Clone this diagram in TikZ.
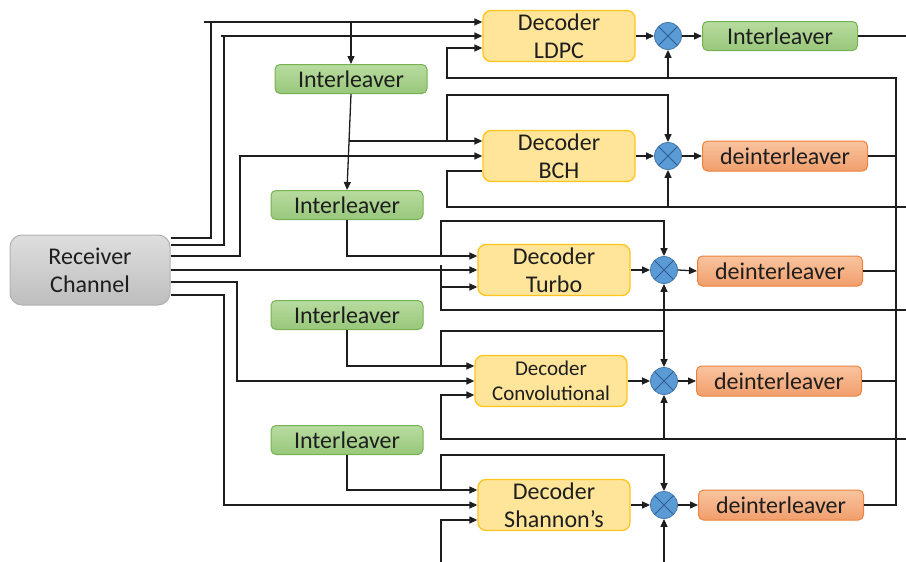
\documentclass[tikz,border=0pt]{standalone}
\usepackage{fontspec}
\setmainfont{Carlito}
\usetikzlibrary{arrows.meta}

\definecolor{linecol}{RGB}{30,30,30}
\definecolor{txt}{RGB}{30,30,30}
\definecolor{decfill}{RGB}{255,229,153}
\definecolor{decdraw}{RGB}{255,196,30}
\definecolor{grntop}{RGB}{184,220,160}
\definecolor{grnbot}{RGB}{152,199,122}
\definecolor{grndraw}{RGB}{120,178,80}
\definecolor{orgtop}{RGB}{249,196,160}
\definecolor{orgbot}{RGB}{241,158,108}
\definecolor{orgdraw}{RGB}{236,130,60}
\definecolor{recvtop}{RGB}{222,222,222}
\definecolor{recvbot}{RGB}{190,190,190}
\definecolor{recvdraw}{RGB}{178,178,178}
\definecolor{multfill}{RGB}{91,155,213}
\definecolor{multdraw}{RGB}{70,120,170}
\definecolor{multx}{RGB}{45,95,150}

\tikzset{
  wire/.style={draw=linecol, line width=1.3pt},
  arr/.style={wire, -{Triangle[length=8pt,width=7pt]}},
  box/.style={rectangle, inner sep=0pt, align=center, text=txt,
    font=\fontsize{24}{28}\selectfont},
  decoder/.style={box, rounded corners=8pt, fill=decfill, draw=decdraw,
    line width=1.3pt, minimum width=152pt, minimum height=51pt},
  grnbox/.style={box, rounded corners=5pt, top color=grntop, bottom color=grnbot,
    draw=grndraw, line width=1pt, minimum width=152pt, minimum height=29pt},
  orgbox/.style={box, rounded corners=5pt, top color=orgtop, bottom color=orgbot,
    draw=orgdraw, line width=1pt, minimum width=165pt, minimum height=30pt},
  recvbox/.style={box, rounded corners=12pt, top color=recvtop, bottom color=recvbot,
    draw=recvdraw, line width=1pt, minimum width=160pt, minimum height=70pt},
  mult/.style={circle, inner sep=0pt, minimum size=27pt, fill=multfill,
    draw=multdraw, line width=0.8pt,
    path picture={\draw[multx, line width=0.9pt]
      (path picture bounding box.north west) -- (path picture bounding box.south east)
      (path picture bounding box.north east) -- (path picture bounding box.south west);}}
}

\begin{document}
\begin{tikzpicture}[x=1pt,y=-1pt]
\useasboundingbox (0,0) rectangle (906,562);

% blocks
\node[recvbox] (rc) at (90,270) {Receiver\\Channel};

\node[decoder] (d1) at (559,36) {Decoder\\LDPC};
\node[decoder] (d2) at (559,156) {Decoder\\BCH};
\node[decoder] (d3) at (554,270) {Decoder\\Turbo};
\node[decoder, font=\fontsize{21}{25}\selectfont] (d4) at (551,381) {Decoder\\Convolutional};
\node[decoder] (d5) at (554,505) {Decoder\\Shannon’s};

\node[mult] (m1) at (668,36) {};
\node[mult] (m2) at (668,156) {};
\node[mult] (m3) at (664,270) {};
\node[mult] (m4) at (664,381) {};
\node[mult] (m5) at (664,505) {};

\node[grnbox, minimum width=155pt] (o1) at (780,36) {Interleaver};
\node[orgbox] (o2) at (785,156) {deinterleaver};
\node[orgbox] (o3) at (780,271) {deinterleaver};
\node[orgbox] (o4) at (779,381) {deinterleaver};
\node[orgbox] (o5) at (781,505) {deinterleaver};

\node[grnbox] (i1) at (351,79) {Interleaver};
\node[grnbox] (i2) at (347,205) {Interleaver};
\node[grnbox] (i3) at (347,315) {Interleaver};
\node[grnbox] (i4) at (347,440) {Interleaver};

% receiver feeds into the decoders
\draw[arr] ([yshift=32pt]rc.east) -| (211,22) -- ([yshift=14pt]d1.west);
\draw[wire] (204,22) -- (211,22);
\draw[arr] ([yshift=25pt]rc.east) -| (224,36) -- (d1.west);
\draw[wire] (221,36) -- (224,36);
\draw[arr] ([yshift=14pt]rc.east) -| (240,156) -- (d2.west);
\draw[arr] (rc.east) -- (d3.west);
\draw[arr] ([yshift=-12pt]rc.east) -| (237,381) -- (d4.west);
\draw[arr] ([yshift=-25pt]rc.east) -| (224,505) -- (d5.west);

% interleaver chain
\coordinate (t1) at (351,22);
\draw[arr] (t1) -- (i1.north);
\draw[arr] (i1.south) -- (i2.north);
\coordinate (t2) at (349,141);
\draw[arr] (t2) -- ([yshift=15pt]d2.west);
\draw[arr] (i2.south) |- ([yshift=14pt]d3.west);
\draw[arr] (i3.south) |- ([yshift=15pt]d4.west);
\draw[arr] (i4.south) |- ([yshift=15pt]d5.west);

% LDPC stage
\draw[arr] (d1.east) -- (m1.west);
\draw[arr] (m1.east) -- (o1.west);
\draw[wire] (o1.east) -- (906,36);
\draw[arr] (668,78) -- (m1.south);

% BCH stage
\draw[arr] (447,141) |- (668,95) -- (m2.north);
\draw[wire] (906,207) -- (447,207) |- ([yshift=-15pt]d2.west);
\draw[arr] (668,207) -- (m2.south);
\draw[arr] (d2.east) -- (m2.west);
\draw[arr] (m2.east) -- (o2.west);

% Turbo stage
\draw[arr] (441,256) |- (664,221) -- (m3.north);
\draw[wire] (906,310) -- (441,310) -- (441,265);
\draw[arr] (441,287) -- ([yshift=-17pt]d3.west);
\draw[arr] (664,331) -- (m3.south);
\draw[arr] (d3.east) -- (m3.west);
\draw[arr] (m3.east) -- (o3.west);

% Convolutional stage
\draw[arr] (441,366) |- (664,331) -- (m4.north);
\draw[arr] (906,439) -- (441,439) |- ([yshift=-14pt]d4.west);
\draw[arr] (664,439) -- (m4.south);
\draw[arr] (d4.east) -- (m4.west);
\draw[arr] (m4.east) -- (o4.west);

% Shannon stage
\draw[arr] (441,490) |- (664,455) -- (m5.north);
\draw[arr] (441,562) |- ([yshift=-15pt]d5.west);
\draw[arr] (664,562) -- (m5.south);
\draw[arr] (d5.east) -- (m5.west);
\draw[arr] (m5.east) -- (o5.west);

% feedback bus on the right
\draw[arr] (o5.east) -- (896,505) -- (896,78) -- (447,78) |- ([yshift=-12pt]d1.west);
\draw[wire] (o2.east) -- (896,156);
\draw[wire] (o3.east) -- (896,271);
\draw[wire] (o4.east) -- (896,381);
\end{tikzpicture}
\end{document}
